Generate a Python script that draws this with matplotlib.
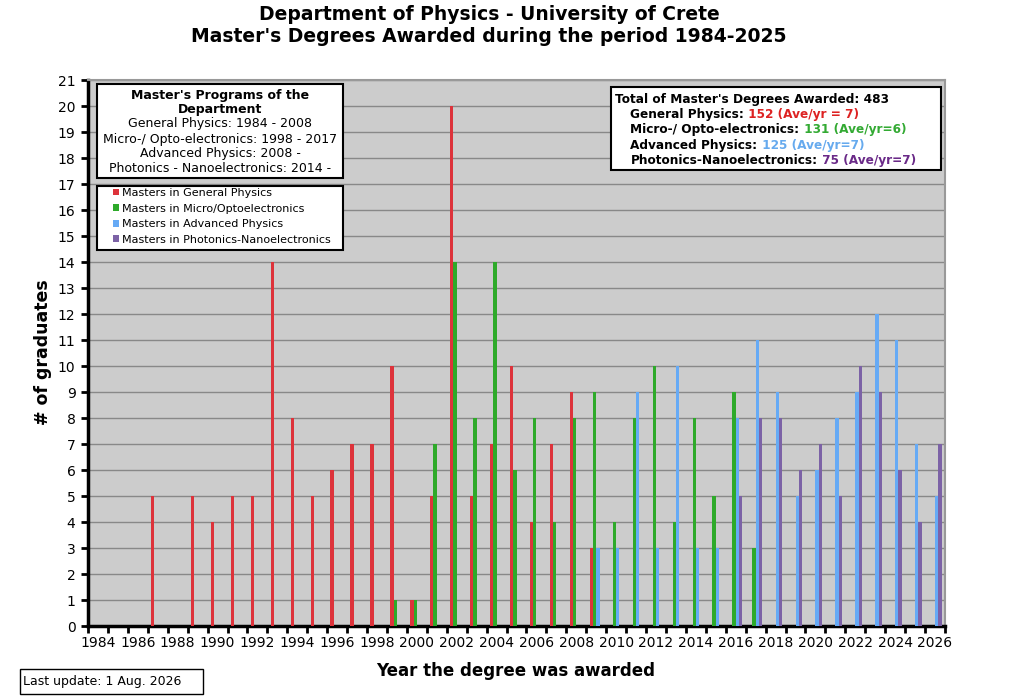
import matplotlib
matplotlib.use("Agg")
import matplotlib.pyplot as plt
from matplotlib.patches import Rectangle
from matplotlib.offsetbox import TextArea, HPacker, VPacker, AnchoredOffsetbox

# Data
years = list(range(1984, 2027))
general = [0, 0, 0, 5, 0, 5, 4, 5, 5, 14, 8, 5, 6, 7, 7, 10, 1, 5, 20, 5, 7, 10,
           4, 7, 9, 3, 0, 0, 0, 0, 0, 0, 0, 0, 0, 0, 0, 0, 0, 0, 0, 0, 0]
micro = [0, 0, 0, 0, 0, 0, 0, 0, 0, 0, 0, 0, 0, 0, 0, 1, 1, 7, 14, 8, 14, 6,
         8, 4, 8, 9, 4, 8, 10, 4, 8, 5, 9, 3, 0, 0, 0, 0, 0, 0, 0, 0, 0]
advanced = [0, 0, 0, 0, 0, 0, 0, 0, 0, 0, 0, 0, 0, 0, 0, 0, 0, 0, 0, 0, 0, 0,
            0, 0, 0, 3, 3, 9, 3, 10, 3, 3, 8, 11, 9, 5, 6, 8, 9, 12, 11, 7, 5]
photonics = [0, 0, 0, 0, 0, 0, 0, 0, 0, 0, 0, 0, 0, 0, 0, 0, 0, 0, 0, 0, 0, 0,
             0, 0, 0, 0, 0, 0, 0, 0, 0, 0, 5, 8, 8, 6, 7, 5, 10, 9, 6, 4, 7]
series_names = ["Masters in General Physics", "Masters in Micro/Optoelectronics",
                "Masters in Advanced Physics", "Masters in Photonics-Nanoelectronics"]
bar_colors = ["#dd333b", "#2eaa2a", "#66aaf5", "#7c62a6"]

W, H = 1024, 697

def fx(x):
    return x / W

def fy(y):
    return 1 - y / H

fig = plt.figure(figsize=(W / 100, H / 100), dpi=100)
ax = fig.add_axes([fx(88), fy(626), fx(945) - fx(88), fy(80) - fy(626)])
ax.set_facecolor("#cccccc")

idx = list(range(len(years)))
width = 0.167
offsets = [-0.25, -0.083, 0.083, 0.25]
for vals, off, col, name in zip([general, micro, advanced, photonics], offsets,
                                bar_colors, series_names):
    ax.bar([i + off for i in idx], vals, width=width, color=col, label=name,
           linewidth=0, zorder=3)

ax.set_xlim(-0.5, len(years) - 0.5)
ax.set_ylim(0, 21)
ax.set_yticks(range(0, 22))
ax.yaxis.grid(True, color="#888888", linewidth=1, zorder=0)
ax.tick_params(axis="y", direction="out", length=5, width=2, labelsize=10,
               colors="black", pad=4)

# major ticks on category boundaries, labels on every second category
ax.set_xticks([i - 0.5 for i in range(len(years) + 1)])
ax.set_xticklabels([])
ax.set_xticks(idx[::2], minor=True)
ax.set_xticklabels([str(y) for y in years[::2]], minor=True)
ax.tick_params(axis="x", which="major", direction="out", length=5, width=2)
ax.tick_params(axis="x", which="minor", length=0, labelsize=10, pad=7)

for s in ["left", "bottom"]:
    ax.spines[s].set_linewidth(2.5)
    ax.spines[s].set_color("black")
for s in ["top", "right"]:
    ax.spines[s].set_linewidth(1.5)
    ax.spines[s].set_color("#999999")

fig.text(fx(489), fy(15), "Department of Physics - University of Crete",
         ha="center", va="center", fontsize=13.5, fontweight="bold")
fig.text(fx(489), fy(37), "Master's Degrees Awarded during the period 1984-2025",
         ha="center", va="center", fontsize=13.5, fontweight="bold")
fig.text(fx(43), fy(352), "# of graduates", rotation=90, ha="center",
         va="center", fontsize=12.5, fontweight="bold")
fig.text(fx(516), fy(671), "Year the degree was awarded", ha="center",
         va="center", fontsize=12, fontweight="bold")

# programs box
fig.patches.append(Rectangle((fx(97), fy(178)), fx(343) - fx(97), fy(84) - fy(178),
                             transform=fig.transFigure, facecolor="white",
                             edgecolor="black", linewidth=1.5, zorder=5))
prog_lines = [("Master's Programs of the", "bold", 95),
              ("Department", "bold", 109.5),
              ("General Physics: 1984 - 2008", "normal", 124),
              ("Micro-/ Opto-electronics: 1998 - 2017", "normal", 139),
              ("Advanced Physics: 2008 -", "normal", 153.5),
              ("Photonics - Nanoelectronics: 2014 -", "normal", 168)]
for txt, wt, y in prog_lines:
    fig.text(fx(220), fy(y), txt, ha="center", va="center", fontsize=9,
             fontweight=wt, zorder=6)

# legend box
fig.patches.append(Rectangle((fx(97), fy(250)), fx(343) - fx(97), fy(186) - fy(250),
                             transform=fig.transFigure, facecolor="white",
                             edgecolor="black", linewidth=1.5, zorder=5))
handles, labels = ax.get_legend_handles_labels()
leg = fig.legend(handles, labels, loc="upper left", bbox_to_anchor=(fx(113), fy(188)),
                 bbox_transform=fig.transFigure, fontsize=8,
                 handlelength=0.55, handleheight=0.55, handletextpad=0.3,
                 labelspacing=0.5, borderpad=0, borderaxespad=0,
                 frameon=False)
leg.set_zorder(6)

# totals box with coloured numbers
fig.patches.append(Rectangle((fx(611), fy(170)), fx(941) - fx(611), fy(87) - fy(170),
                             transform=fig.transFigure, facecolor="white",
                             edgecolor="black", linewidth=1.5, zorder=5))
tot_rows = [("Total of Master's Degrees Awarded: 483", "", "black", 0),
            ("General Physics:", " 152 (Ave/yr = 7)", "#dd2222", 16),
            ("Micro-/ Opto-electronics:", " 131 (Ave/yr=6)", "#33aa33", 16),
            ("Advanced Physics:", " 125 (Ave/yr=7)", "#66aaee", 16),
            ("Photonics-Nanoelectronics:", " 75 (Ave/yr=7)", "#6a2a88", 16)]
rows = []
for lab, val, col, indent in tot_rows:
    kids = [TextArea(lab, textprops=dict(fontsize=8.7, fontweight="bold", color="black"))]
    if val:
        kids.append(TextArea(val, textprops=dict(fontsize=8.7, fontweight="bold", color=col)))
    row = HPacker(children=kids, sep=0, pad=0)
    if indent:
        row = HPacker(children=[TextArea(" " * 4, textprops=dict(fontsize=8.7)), row],
                      sep=0, pad=0)
    rows.append(row)
box = VPacker(children=rows, sep=1.6, pad=0, align="left")
anch = AnchoredOffsetbox(loc="upper left", child=box, frameon=False, pad=0,
                         borderpad=0, bbox_to_anchor=(fx(615), fy(93)),
                         bbox_transform=fig.transFigure)
anch.set_zorder(7)
fig.add_artist(anch)

# last update box
fig.patches.append(Rectangle((fx(20), fy(694)), fx(203) - fx(20), fy(669) - fy(694),
                             transform=fig.transFigure, facecolor="white",
                             edgecolor="black", linewidth=1, zorder=5))
fig.text(fx(23), fy(682), "Last update: 1 Aug. 2026", ha="left", va="center",
         fontsize=9, zorder=6)

plt.savefig("out.png", dpi=100)
